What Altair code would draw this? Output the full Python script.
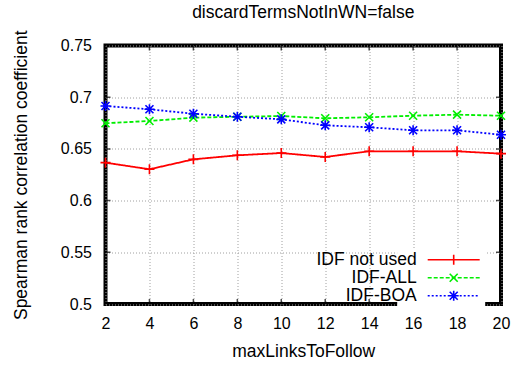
import altair as alt
import pandas as pd

# maxLinksToFollow settings and the Spearman coefficients for each IDF variant
links = [2, 4, 6, 8, 10, 12, 14, 16, 18, 20]
idf_not_used = [0.6367, 0.6303, 0.6399, 0.6438, 0.6460, 0.6422, 0.6477, 0.6477, 0.6477, 0.6454]
idf_all = [0.6748, 0.6770, 0.6802, 0.6811, 0.6818, 0.6796, 0.6806, 0.6821, 0.6831, 0.6821]
idf_boa = [0.6915, 0.6883, 0.6840, 0.6811, 0.6786, 0.6728, 0.6709, 0.6680, 0.6680, 0.6637]

series_names = ["IDF not used", "IDF-ALL", "IDF-BOA"]
series_values = [idf_not_used, idf_all, idf_boa]
series_colors = ["#ff0000", "#00ee00", "#0000ff"]

x_ticks = [2, 4, 6, 8, 10, 12, 14, 16, 18, 20]
y_ticks = [0.5, 0.55, 0.6, 0.65, 0.7, 0.75]

FONT = "Liberation Sans"
TICK_FS = 16
TEXT_FS = 17.5

# gnuplot-like point glyphs (symbol size 4 -> one path unit is one pixel)
PLUS = "M-5,0H5M0,-5V5"
CROSS = "M-4,-4L4,4M-4,4L4,-4"
STAR = "M-5,0H5M0,-5V5M-4,-4L4,4M-4,4L4,-4"
markers = [PLUS, CROSS, STAR]
dashes = [[1, 0], [4, 2], [2, 2]]


def shift_path(path, dx):
    """Move an absolute M/L/H/V path horizontally by dx pixels."""
    out, num = [], ""
    tokens = []
    for ch in path:
        if ch.isalpha():
            if num:
                tokens.append(num)
                num = ""
            tokens.append(ch)
        elif ch == ",":
            tokens.append(num)
            num = ""
        else:
            num += ch
    if num:
        tokens.append(num)
    i = 0
    while i < len(tokens):
        t = tokens[i]
        if t in "ML":
            out.append(f"{t}{float(tokens[i + 1]) + dx:g},{tokens[i + 2]}")
            i += 3
        elif t == "H":
            out.append(f"H{float(tokens[i + 1]) + dx:g}")
            i += 2
        else:
            out.append(f"{t}{tokens[i + 1]}")
            i += 2
    return "".join(out)


def key_sample(marker, dash, half=26, dx=45.75):
    """Legend sample: a (possibly dashed) line segment with the point glyph on it,
    pushed to the right of the right-aligned label."""
    on, off = dash
    if off == 0:
        line = f"M{-half},0H{half}"
    else:
        parts = []
        pos = -half
        while pos < half:
            end = min(pos + on, half)
            parts.append(f"M{pos},0H{end}")
            pos += on + off
        line = "".join(parts)
    return shift_path(line + marker, dx)


key_paths = [key_sample(m, d) for m, d in zip(markers, dashes)]

rows = []
for name, vals in zip(series_names, series_values):
    for x, v in zip(links, vals):
        rows.append({"links": x, "rho": v, "series": name})
df = pd.DataFrame(rows)

x_scale = alt.Scale(domain=[2, 20], nice=False, zero=False)
y_scale = alt.Scale(domain=[0.5, 0.75], nice=False, zero=False)
color_scale = alt.Scale(domain=series_names, range=series_colors)

grid_style = dict(grid=True, gridColor="#a0a0a0", gridDash=[1, 2], gridWidth=1,
                  ticks=False, domain=False, labelFlush=False, labelOverlap=False,
                  labelFontSize=TICK_FS, labelFont=FONT, labelColor="black",
                  titleFontSize=TEXT_FS, titleFont=FONT, titleFontWeight="normal",
                  titleColor="black")

x_enc = alt.X("links:Q", scale=x_scale,
              axis=alt.Axis(values=x_ticks, title="maxLinksToFollow",
                            labelPadding=11.5, titlePadding=10.5, **grid_style))
y_enc = alt.Y("rho:Q", scale=y_scale,
              axis=alt.Axis(values=y_ticks, format=".2~f",
                            title="Spearman rank correlation coefficient",
                            labelPadding=14, titlePadding=30, **grid_style))

# one line layer and one point layer per series
series_layers = []
for name, col, dash in zip(series_names, series_colors, dashes):
    sub = alt.Chart(df).transform_filter(alt.datum.series == name)
    series_layers.append(
        sub.mark_line(strokeWidth=1.8, color=col, strokeDash=dash, clip=True)
        .encode(x=x_enc, y=y_enc)
    )
for name, col, mk in zip(series_names, series_colors, markers):
    sub = alt.Chart(df).transform_filter(alt.datum.series == name)
    series_layers.append(
        sub.mark_point(shape=mk, size=4, filled=False, strokeWidth=1.6,
                       color=col, opacity=1)
        .encode(x="links:Q", y="rho:Q")
    )

# inward tick marks on all four sides of the frame
xt = pd.DataFrame({"links": x_ticks, "bottom": 0.5, "top": 0.75})
yt = pd.DataFrame({"rho": y_ticks, "left": 2, "right": 20})
tick_style = dict(size=10, thickness=1.5, color="black", clip=True)
tick_x_bottom = alt.Chart(xt).mark_tick(orient="vertical", **tick_style).encode(
    x="links:Q", y="bottom:Q")
tick_x_top = alt.Chart(xt).mark_tick(orient="vertical", **tick_style).encode(
    x="links:Q", y="top:Q")
tick_y_left = alt.Chart(yt).mark_tick(orient="horizontal", **tick_style).encode(
    y="rho:Q", x="left:Q")
tick_y_right = alt.Chart(yt).mark_tick(orient="horizontal", **tick_style).encode(
    y="rho:Q", x="right:Q")

legend_props = dict(
    title=None, orient="none", legendX=291.7, legendY=203.5,
    labelAlign="right", labelOffset=0,
    labelFontSize=TEXT_FS, labelFont=FONT,
    labelColor="black", labelLimit=300, symbolSize=4, symbolStrokeWidth=1.6,
    symbolOpacity=1, padding=2, fillColor="white",
)
try:
    key_legend = alt.Legend(rowPadding=-5.5, **legend_props)
except Exception:
    key_legend = alt.Legend(rowPadding=0, **legend_props)

# invisible layer that only carries the key
key = alt.Chart(df).mark_point(
    filled=False, size=4, strokeWidth=1.6, opacity=0
).encode(
    x="links:Q",
    y="rho:Q",
    color=alt.Color("series:N", scale=color_scale, legend=key_legend),
    shape=alt.Shape("series:N",
                    scale=alt.Scale(domain=series_names, range=key_paths),
                    legend=key_legend),
)

chart = alt.layer(
    *series_layers,
    tick_x_bottom, tick_x_top, tick_y_left, tick_y_right, key,
).properties(
    width=395.5,
    height=258.5,
    title=alt.TitleParams("discardTermsNotInWN=false", fontSize=TEXT_FS,
                          fontWeight="normal", font=FONT, color="black",
                          offset=8, anchor="middle"),
    autosize=alt.AutoSizeParams(type="none"),
    padding={"left": 105.5, "top": 45.5, "right": 16, "bottom": 61},
).configure_view(
    stroke="black", strokeWidth=4
)

chart.save("out.html", embed_options={"renderer": "svg", "actions": False})
